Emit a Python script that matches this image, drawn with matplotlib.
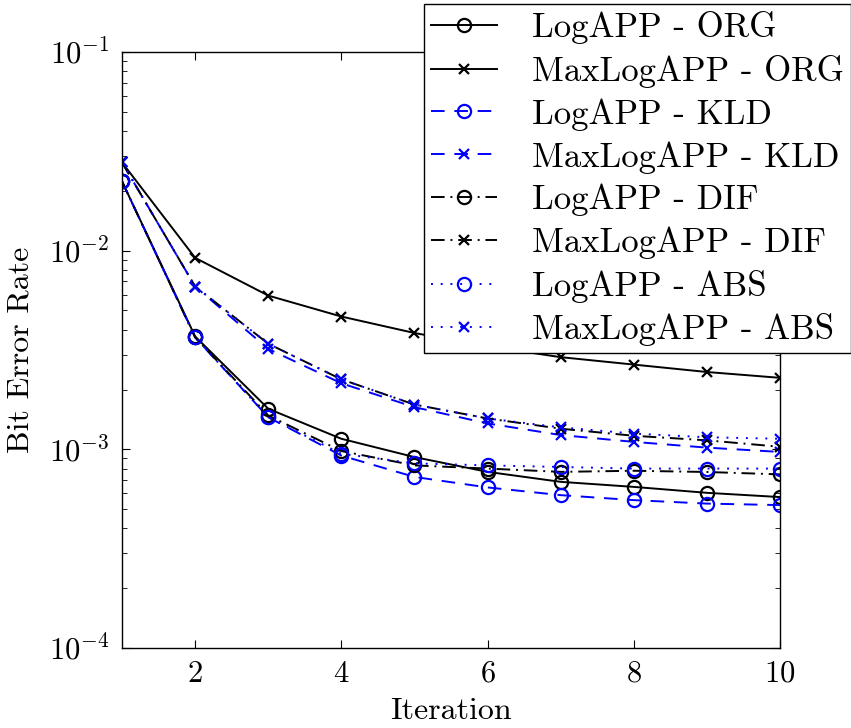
import matplotlib
matplotlib.use("Agg")
import matplotlib.pyplot as plt
import numpy as np

plt.rcParams["font.family"] = "serif"
plt.rcParams["font.serif"] = ["cmr10", "DejaVu Serif"]
plt.rcParams["mathtext.fontset"] = "cm"
plt.rcParams["axes.formatter.use_mathtext"] = True

iterations = np.arange(1, 11)

# LogAPP / MaxLogAPP bit error rates for each method
log_org = [0.0223, 0.0037, 0.0016, 0.00113, 0.000914, 0.00077, 0.000686, 0.000647, 0.000604, 0.000575]
max_org = [0.0278, 0.0092, 0.00594, 0.00466, 0.00385, 0.0033, 0.00291, 0.00267, 0.00245, 0.00229]
log_kld = [0.0223, 0.00366, 0.00145, 0.00093, 0.000726, 0.000643, 0.000588, 0.000555, 0.000533, 0.000524]
max_kld = [0.0278, 0.0066, 0.0032, 0.00215, 0.00163, 0.00135, 0.00118, 0.00109, 0.00102, 0.00097]
log_dif = [0.0223, 0.00366, 0.00148, 0.00098, 0.00083, 0.0008, 0.00077, 0.00078, 0.000769, 0.000748]
max_dif = [0.0278, 0.0066, 0.0034, 0.00225, 0.00168, 0.00143, 0.00127, 0.00117, 0.00111, 0.00103]
log_abs = [0.0223, 0.00366, 0.00145, 0.00095, 0.00085, 0.00083, 0.000815, 0.0008, 0.0008, 0.0008]
max_abs = [0.0278, 0.0066, 0.0034, 0.00225, 0.00168, 0.00143, 0.00129, 0.0012, 0.00115, 0.00113]

labels = [
    "LogAPP - ORG", "MaxLogAPP - ORG",
    "LogAPP - KLD", "MaxLogAPP - KLD",
    "LogAPP - DIF", "MaxLogAPP - DIF",
    "LogAPP - ABS", "MaxLogAPP - ABS",
]
series = [log_org, max_org, log_kld, max_kld, log_dif, max_dif, log_abs, max_abs]

blue = "#0000ff"
styles = [
    dict(color="k", linestyle="-", marker="o"),
    dict(color="k", linestyle="-", marker="x"),
    dict(color=blue, linestyle=(0, (7, 5)), marker="o"),
    dict(color=blue, linestyle=(0, (7, 5)), marker="x"),
    dict(color="k", linestyle=(0, (7, 3, 1, 3)), marker="o"),
    dict(color="k", linestyle=(0, (7, 3, 1, 3)), marker="x"),
    dict(color=blue, linestyle=(0, (1, 4)), marker="o"),
    dict(color=blue, linestyle=(0, (1, 4)), marker="x"),
]

fig = plt.figure(figsize=(8.51, 7.28), dpi=100)
ax = fig.add_axes([0.1434, 0.1099, 0.7732, 0.8187])

for vals, lab, st in zip(series, labels, styles):
    ms = 9.5 if st["marker"] == "o" else 7.5
    ax.plot(iterations, vals, label=lab, linewidth=1.4, markersize=ms,
            markerfacecolor="none", markeredgewidth=1.6, **st)

ax.set_yscale("log")
ax.set_xlim(1, 10)
ax.set_ylim(1e-4, 1e-1)
ax.set_xticks([2, 4, 6, 8, 10])
ax.tick_params(which="both", direction="in", top=True, right=True, labelsize=22, pad=9)
ax.tick_params(which="major", length=6)
ax.tick_params(which="minor", length=3.5)
for sp in ax.spines.values():
    sp.set_linewidth(1.0)

ax.set_xlabel("Iteration", fontsize=23, labelpad=7)
ax.set_ylabel("Bit Error Rate", fontsize=23, labelpad=10)

leg = fig.legend(loc="upper right", bbox_to_anchor=(1.0, 0.994), fontsize=25,
                 numpoints=1, handlelength=1.9, handletextpad=1.0,
                 labelspacing=0.3, borderpad=0.2, borderaxespad=0,
                 fancybox=False, framealpha=1, edgecolor="k")
leg.get_frame().set_linewidth(1.0)

fig.savefig("out.png", dpi=100)
